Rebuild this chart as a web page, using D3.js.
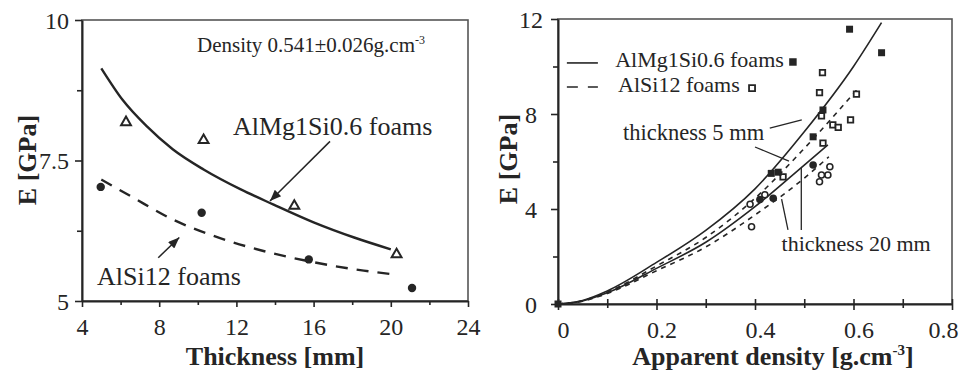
<!DOCTYPE html>
<html>
<head>
<meta charset="utf-8">
<script src="https://cdn.jsdelivr.net/npm/d3@7"></script>
<style>
body { margin: 0; background: #fff; }
svg { display: block; font-family: "Liberation Serif", "Times New Roman", serif; }
</style>
</head>
<body>
<svg width="964" height="375"></svg>
<script>
// ---- left panel: E vs thickness (density 0.541 g/cm3) ----
var thickTicks = [4, 8, 12, 16, 20, 24];
var thickMinor = [6, 10, 14, 18, 22];
var eTicksL = [5, 7.5, 10];
var eMinorL = [6.25, 8.75];

var almgThick = [6.28, 10.3, 15.0, 20.3];
var almgE = [8.18, 7.86, 6.69, 5.83];
var alsiThick = [4.97, 10.2, 15.75, 21.1];
var alsiE = [7.03, 6.57, 5.74, 5.23];

var almgFitT = [5.0, 6.1, 7.35, 8.7, 10.3, 12.2, 13.9, 16.0, 18.1, 20.0];
var almgFitE = [9.14, 8.58, 8.11, 7.70, 7.34, 6.99, 6.72, 6.40, 6.13, 5.92];
var alsiFitT = [5.0, 6.5, 8.7, 10.8, 13.4, 16.0, 18.6, 20.0];
var alsiFitE = [7.16, 6.87, 6.45, 6.16, 5.89, 5.69, 5.54, 5.48];

// ---- right panel: E vs apparent density ----
var densTicks = [0, 0.2, 0.4, 0.6, 0.8];
var densMinor = [0.1, 0.3, 0.5, 0.7];
var eTicksR = [0, 4, 8, 12];
var eMinorR = [2, 6, 10];

var almg5Rho = [0, 0.05, 0.1, 0.2, 0.3, 0.4, 0.5, 0.6, 0.657];
var almg5E = [0, 0.15, 0.55, 1.75, 3.1, 4.85, 7.25, 10.0, 11.85];
var alsi5Rho = [0, 0.05, 0.1, 0.2, 0.3, 0.4, 0.5, 0.606];
var alsi5E = [0, 0.14, 0.5, 1.6, 2.8, 4.45, 6.55, 9.0];
var almg20Rho = [0, 0.05, 0.1, 0.2, 0.3, 0.4, 0.5, 0.548];
var almg20E = [0, 0.13, 0.47, 1.5, 2.6, 4.1, 5.85, 6.7];
var alsi20Rho = [0, 0.05, 0.1, 0.2, 0.3, 0.4, 0.5, 0.55];
var alsi20E = [0, 0.12, 0.44, 1.4, 2.4, 3.75, 5.3, 6.2];

var almgSqRho = [0, 0.592, 0.657, 0.538, 0.518, 0.433, 0.447];
var almgSqE = [0, 11.57, 10.58, 8.17, 7.04, 5.5, 5.55];
var alsiSqRho = [0.537, 0.531, 0.535, 0.606, 0.594, 0.558, 0.569, 0.538, 0.457];
var alsiSqE = [9.74, 8.9, 7.92, 8.84, 7.75, 7.54, 7.44, 6.77, 5.35];
var almgCirRho = [0.518, 0.437, 0.41];
var almgCirE = [5.85, 4.45, 4.4];
var alsiCirRho = [0.552, 0.548, 0.535, 0.531, 0.393, 0.39, 0.42];
var alsiCirE = [5.78, 5.43, 5.43, 5.15, 3.25, 4.2, 4.6];

var ink = "#252525";
var svg = d3.select("svg");

svg.append("defs").append("marker")
    .attr("id", "arrow")
    .attr("viewBox", "0 0 10 8")
    .attr("refX", 10).attr("refY", 4)
    .attr("markerWidth", 13).attr("markerHeight", 9)
    .attr("markerUnits", "userSpaceOnUse")
    .attr("orient", "auto")
    .append("path").attr("d", "M0,0 L10,4 L0,8 Z").attr("fill", ink);

function drawAxes(sx, sy, o) {
    var x0 = sx.range()[0], x1 = sx.range()[1];
    var y0 = sy.range()[0], y1 = sy.range()[1];

    // box
    svg.append("rect")
        .attr("x", x0).attr("y", y1)
        .attr("width", x1 - x0).attr("height", y0 - y1)
        .attr("fill", "none").attr("stroke", "#555").attr("stroke-width", 1.6);

    var gx = svg.append("g").attr("transform", "translate(0," + y0 + ")")
        .call(d3.axisBottom(sx).tickValues(o.xt).tickSize(6).tickSizeOuter(0)
            .tickFormat(d3.format("")));
    var gxm = svg.append("g").attr("transform", "translate(0," + y0 + ")")
        .call(d3.axisBottom(sx).tickValues(o.xm).tickSize(4).tickFormat(""));
    gxm.select(".domain").remove();
    if (o.cross) {
        gx.selectAll(".tick line").attr("y1", -5);
        gxm.selectAll(".tick line").attr("y1", -5);
    }

    var gy = svg.append("g").attr("transform", "translate(" + x0 + ",0)")
        .call(d3.axisLeft(sy).tickValues(o.yt).tickSize(7).tickSizeOuter(0)
            .tickFormat(d3.format("")));
    var gym = svg.append("g").attr("transform", "translate(" + x0 + ",0)")
        .call(d3.axisLeft(sy).tickValues(o.ym).tickSize(5).tickFormat(""));
    gym.select(".domain").remove();

    [gx, gxm, gy, gym].forEach(function (g) {
        g.selectAll("line").attr("stroke", ink).attr("stroke-width", 1.6);
        g.select(".domain").attr("stroke", ink).attr("stroke-width", 2);
    });

    gx.selectAll("text")
        .attr("y", 34).attr("dy", null)
        .attr("font-size", 24).attr("fill", ink)
        .attr("font-family", "Liberation Serif")
        .attr("dx", o.xdx || 0);
    gy.selectAll("text")
        .attr("font-size", 24).attr("fill", ink)
        .attr("font-family", "Liberation Serif")
        .attr("x", o.ylx).attr("dy", "0.35em")
        .attr("text-anchor", o.yanchor);
    return gx;
}

// ===== left panel =====
var xL = d3.scaleLinear().domain([4, 24]).range([82, 468]);
var yL = d3.scaleLinear().domain([5, 10]).range([301, 20]);

drawAxes(xL, yL, { xt: thickTicks, xm: thickMinor, yt: eTicksL, ym: eMinorL,
    ylx: -13, yanchor: "end" });

var lineL = d3.line().x(d => xL(d[0])).y(d => yL(d[1])).curve(d3.curveMonotoneX);

svg.append("path")
    .attr("d", lineL(d3.zip(almgFitT, almgFitE)))
    .attr("fill", "none").attr("stroke", ink).attr("stroke-width", 2.4);
svg.append("path")
    .attr("d", lineL(d3.zip(alsiFitT, alsiFitE)))
    .attr("fill", "none").attr("stroke", ink).attr("stroke-width", 2.4)
    .attr("stroke-dasharray", "12,9");

svg.append("g").selectAll("path")
    .data(d3.zip(almgThick, almgE)).enter().append("path")
    .attr("d", d3.symbol().type(d3.symbolTriangle).size(42))
    .attr("transform", d => "translate(" + xL(d[0]) + "," + yL(d[1]) + ")")
    .attr("fill", "#fff").attr("stroke", ink).attr("stroke-width", 2);

svg.append("g").selectAll("circle")
    .data(d3.zip(alsiThick, alsiE)).enter().append("circle")
    .attr("cx", d => xL(d[0])).attr("cy", d => yL(d[1]))
    .attr("r", 4.2).attr("fill", ink);

var dens = svg.append("text")
    .attr("x", xL(9.96)).attr("y", yL(9.43))
    .attr("font-size", 21).attr("fill", ink)
    .text("Density 0.541\u00b10.026g.cm");
dens.append("tspan").attr("dy", -8).attr("font-size", 12).text("-3");

svg.append("text")
    .attr("x", xL(11.82)).attr("y", yL(7.96))
    .attr("font-size", 26).attr("fill", ink)
    .text("AlMg1Si0.6 foams");
svg.append("text")
    .attr("x", xL(4.78)).attr("y", yL(5.28))
    .attr("font-size", 26).attr("fill", ink)
    .text("AlSi12 foams");

svg.append("line")
    .attr("x1", xL(16.85)).attr("y1", yL(7.84))
    .attr("x2", xL(13.74)).attr("y2", yL(6.78))
    .attr("stroke", ink).attr("stroke-width", 1.5)
    .attr("marker-end", "url(#arrow)");
svg.append("line")
    .attr("x1", xL(7.95)).attr("y1", yL(5.77))
    .attr("x2", xL(9.04)).attr("y2", yL(6.13))
    .attr("stroke", ink).attr("stroke-width", 1.5)
    .attr("marker-end", "url(#arrow)");

svg.append("text")
    .attr("x", 275).attr("y", 365)
    .attr("text-anchor", "middle")
    .attr("font-size", 26).attr("font-weight", "bold").attr("fill", ink)
    .text("Thickness [mm]");
svg.append("text")
    .attr("transform", "translate(36,160) rotate(-90)")
    .attr("text-anchor", "middle")
    .attr("font-size", 26).attr("font-weight", "bold").attr("fill", ink)
    .text("E [GPa]");

// ===== right panel =====
var xR = d3.scaleLinear().domain([0, 0.8]).range([558, 952]);
var yR = d3.scaleLinear().domain([0, 12]).range([304, 19]);

var gxR = drawAxes(xR, yR, { xt: densTicks, xm: densMinor, yt: eTicksR, ym: eMinorR,
    ylx: -27, yanchor: "middle", cross: true, xdx: 5 });
gxR.selectAll("text").filter(d => d === 0.8).attr("dx", -9);

var lineR = d3.line().x(d => xR(d[0])).y(d => yR(d[1])).curve(d3.curveMonotoneX);

[[almg5Rho, almg5E, null], [alsi5Rho, alsi5E, "5,5"],
 [almg20Rho, almg20E, null], [alsi20Rho, alsi20E, "5,5"]].forEach(function (c) {
    svg.append("path")
        .attr("d", lineR(d3.zip(c[0], c[1])))
        .attr("fill", "none").attr("stroke", ink).attr("stroke-width", 1.6)
        .attr("stroke-dasharray", c[2]);
});

var sq = d3.symbol().type(d3.symbolSquare);
svg.append("g").selectAll("path")
    .data(d3.zip(alsiSqRho, alsiSqE)).enter().append("path")
    .attr("d", sq.size(30)())
    .attr("transform", d => "translate(" + xR(d[0]) + "," + yR(d[1]) + ")")
    .attr("fill", "#fff").attr("stroke", ink).attr("stroke-width", 1.8);
svg.append("g").selectAll("circle")
    .data(d3.zip(alsiCirRho, alsiCirE)).enter().append("circle")
    .attr("cx", d => xR(d[0])).attr("cy", d => yR(d[1]))
    .attr("r", 3).attr("fill", "#fff").attr("stroke", ink).attr("stroke-width", 1.6);
svg.append("g").selectAll("circle")
    .data(d3.zip(almgCirRho, almgCirE)).enter().append("circle")
    .attr("cx", d => xR(d[0])).attr("cy", d => yR(d[1]))
    .attr("r", 3.8).attr("fill", ink);
svg.append("g").selectAll("path")
    .data(d3.zip(almgSqRho, almgSqE)).enter().append("path")
    .attr("d", sq.size(49)())
    .attr("transform", d => "translate(" + xR(d[0]) + "," + yR(d[1]) + ")")
    .attr("fill", ink);

// legend
svg.append("line")
    .attr("x1", xR(0.018)).attr("x2", xR(0.081))
    .attr("y1", yR(10.15)).attr("y2", yR(10.15))
    .attr("stroke", ink).attr("stroke-width", 1.6);
svg.append("text")
    .attr("x", xR(0.116)).attr("y", yR(9.98))
    .attr("font-size", 22).attr("fill", ink)
    .text("AlMg1Si0.6 foams");
svg.append("path")
    .attr("d", sq.size(56)())
    .attr("transform", "translate(" + xR(0.477) + "," + yR(10.19) + ")")
    .attr("fill", ink);

svg.append("line")
    .attr("x1", xR(0.018)).attr("x2", xR(0.081))
    .attr("y1", yR(9.14)).attr("y2", yR(9.14))
    .attr("stroke", ink).attr("stroke-width", 1.6)
    .attr("stroke-dasharray", "11,10");
svg.append("text")
    .attr("x", xR(0.122)).attr("y", yR(8.93))
    .attr("font-size", 22).attr("fill", ink)
    .text("AlSi12 foams");
svg.append("path")
    .attr("d", sq.size(36)())
    .attr("transform", "translate(" + xR(0.394) + "," + yR(9.09) + ")")
    .attr("fill", "#fff").attr("stroke", ink).attr("stroke-width", 1.8);

// thickness annotations
svg.append("text")
    .attr("x", xR(0.132)).attr("y", yR(6.9))
    .attr("font-size", 22.5).attr("fill", ink)
    .text("thickness 5 mm");
svg.append("text")
    .attr("x", xR(0.454)).attr("y", yR(2.24))
    .attr("font-size", 22).attr("fill", ink)
    .text("thickness 20 mm");

[[0.43, 7.41, 0.495, 7.75], [0.4, 6.61, 0.469, 6.02],
 [0.494, 5.73, 0.494, 3.12], [0.454, 4.42, 0.467, 3.12]].forEach(function (l) {
    svg.append("line")
        .attr("x1", xR(l[0])).attr("y1", yR(l[1]))
        .attr("x2", xR(l[2])).attr("y2", yR(l[3]))
        .attr("stroke", ink).attr("stroke-width", 1.3);
});

var xlab = svg.append("text")
    .attr("x", 773).attr("y", 365)
    .attr("text-anchor", "middle")
    .attr("font-size", 26).attr("font-weight", "bold").attr("fill", ink)
    .text("Apparent density [g.cm");
xlab.append("tspan").attr("dy", -10).attr("font-size", 15).text("-3");
xlab.append("tspan").attr("dy", 10).text("]");

svg.append("text")
    .attr("transform", "translate(517,159) rotate(-90)")
    .attr("text-anchor", "middle")
    .attr("font-size", 26).attr("font-weight", "bold").attr("fill", ink)
    .text("E [GPa]");
</script>
</body>
</html>
